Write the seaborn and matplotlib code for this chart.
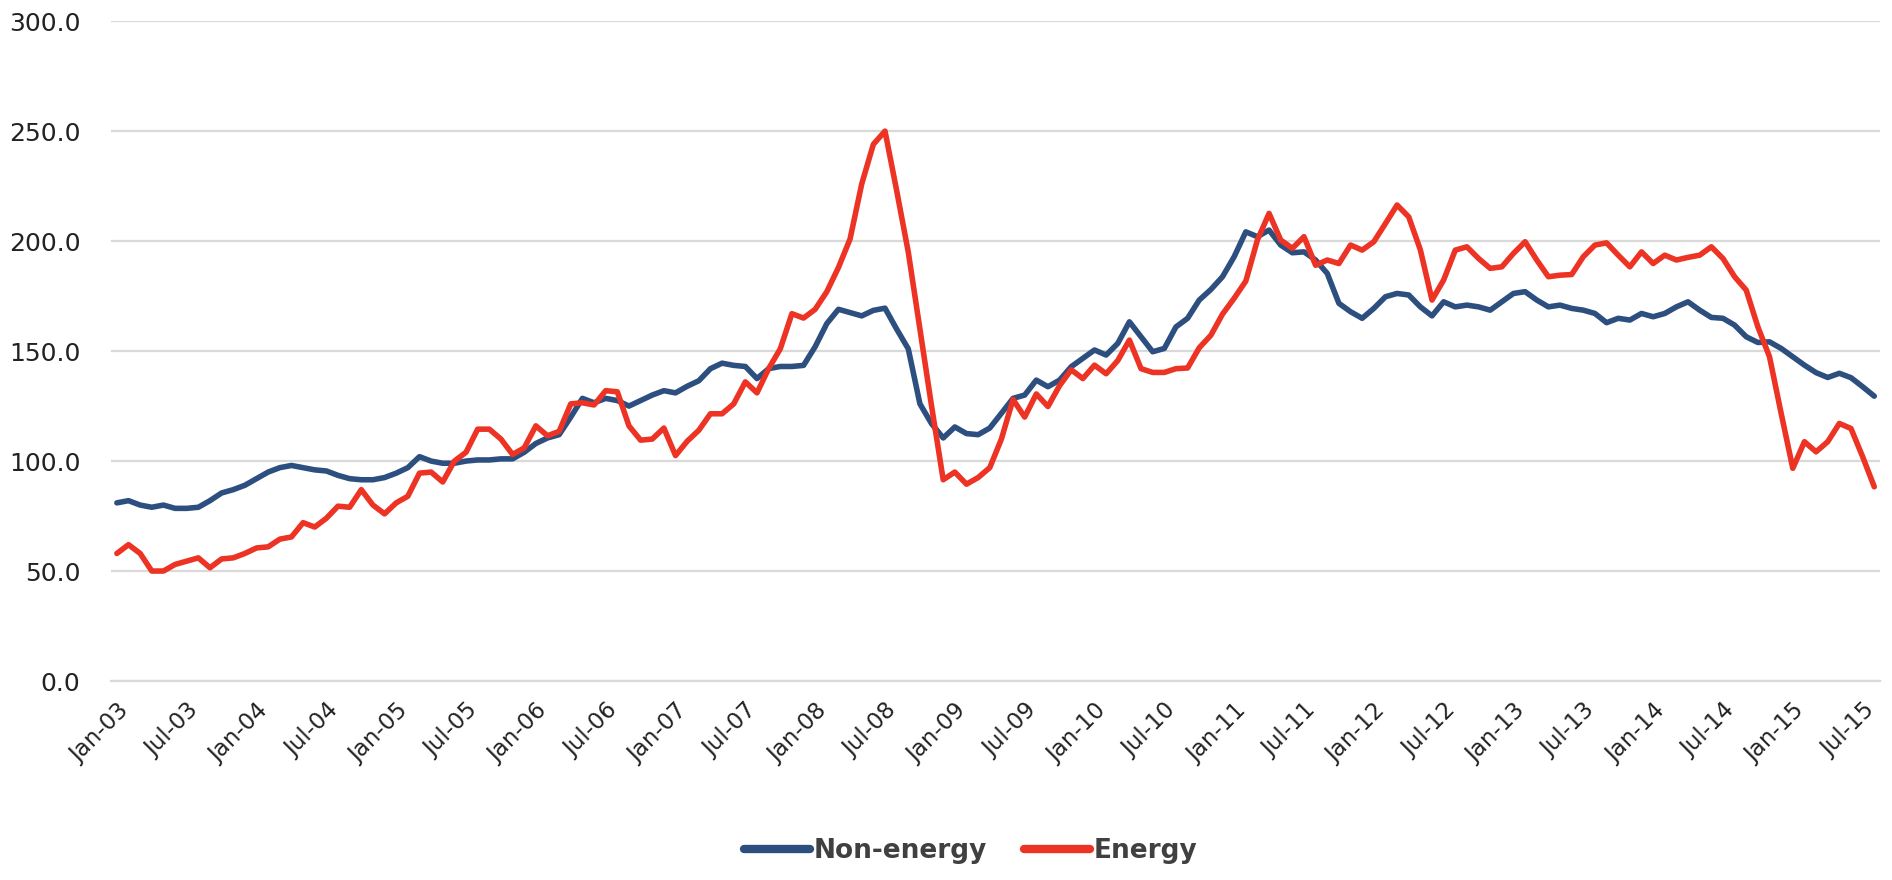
import numpy as np
import pandas as pd
import matplotlib
matplotlib.use("Agg")
import matplotlib.pyplot as plt
from matplotlib.ticker import FixedLocator, FuncFormatter
import seaborn as sns

# monthly index values, Jan-03 .. Aug-15
months = pd.date_range("2003-01-01", periods=152, freq="MS")

non_energy = [
    81, 82, 80, 79, 80, 78.5, 78.5, 79, 82, 85.5, 87, 89,
    92, 95, 97, 98, 97, 96, 95.5, 93.5, 92, 91.5, 91.5, 92.5,
    94.5, 97, 102, 100, 99, 99, 100, 100.5, 100.5, 101, 101, 104,
    108, 110.5, 112, 120, 128.5, 126.5, 128.5, 127.5, 125, 127.5, 130, 132,
    131, 134, 136.5, 142, 144.5, 143.5, 143, 137.5, 142, 143, 143, 143.5,
    152, 162.5, 169, 167.5, 166, 168.5, 169.5, 160, 151, 126, 117, 110.5,
    115.5, 112.5, 112, 115, 121.7, 128.5, 130, 136.8, 133.8, 136.8, 142.9, 146.7,
    150.5, 148.2, 153.5, 163.3, 156.5, 149.7, 151.2, 161, 164.9, 173.2, 178, 183.8,
    192.9, 204.2, 202, 205, 198.2, 194.7, 195.1, 191.4, 185.3, 171.7, 167.9, 164.9,
    169.4, 174.7, 176.2, 175.5, 170.1, 166, 172.4, 170.1, 170.9, 170.1, 168.6, 172.4,
    176.2, 177, 173.2, 170.1, 170.9, 169.4, 168.6, 167.1, 162.9, 164.9, 164.1, 167.1,
    165.6, 167.1, 170.1, 172.4, 168.6, 165.3, 164.9, 161.8, 156.5, 153.9, 154.2, 151.2,
    147.4, 143.6, 140.2, 138, 139.9, 137.9, 133.8, 129.5,
]

energy = [
    58, 62, 58, 50, 50, 53, 54.5, 56, 51.5, 55.5, 56, 58,
    60.5, 61, 64.5, 65.5, 72, 70, 74, 79.5, 79, 87, 80, 76,
    81, 84, 94.5, 95, 90.5, 100, 104, 114.5, 114.5, 110, 103, 106,
    116, 111.5, 113.5, 126, 126.5, 125.5, 132, 131.5, 116, 109.5, 110, 115,
    102.5, 109, 114, 121.5, 121.5, 126, 136, 131, 142, 151, 167, 165,
    169, 177, 188, 201, 226, 244, 250, 223, 195, 160, 125, 91.5,
    95, 89.5, 92.5, 97, 110, 128, 120, 130.5, 124.8, 134.3, 141.5, 137.5,
    143.6, 139.7, 145.7, 155, 142, 140.3, 140.3, 142, 142.3, 151.5, 157.2, 166.8,
    174, 181.8, 200.5, 212.6, 200.5, 196.7, 202, 189, 191.4, 189.8, 198.2, 195.9,
    199.7, 208, 216.4, 211, 196, 173.2, 182.3, 195.9, 197.4, 192.1, 187.6, 188.3,
    194.4, 199.7, 191.4, 183.8, 184.5, 184.8, 192.9, 198.2, 199.2, 193.6, 188.3, 195.1,
    189.8, 193.6, 191.4, 192.6, 193.6, 197.4, 192.1, 183.8, 177.7, 161, 147.4, 121.7,
    96.7, 108.8, 104.2, 108.8, 117.1, 114.8, 102, 88.3,
]

series_names = ["Non-energy", "Energy"]
colors = {"Non-energy": "#2D4F7F", "Energy": "#EC3324"}

df = pd.DataFrame({
    "idx": np.tile(np.arange(len(months)), 2),
    "value": non_energy + energy,
    "series": np.repeat(series_names, len(months)),
})

tick_labels = [m.strftime("%b-%y") for m in months]

sns.set_style("white")
plt.rcParams["font.family"] = ["DejaVu Sans"]

fig = plt.figure(figsize=(18.92, 8.8), dpi=100)
ax = fig.add_axes([0.0587, 0.2261, 0.935, 0.7499])

sns.lineplot(data=df, x="idx", y="value", hue="series", hue_order=series_names,
             palette=colors, linewidth=4, ax=ax, legend=True,
             solid_capstyle="round", solid_joinstyle="round")

ax.set_xlim(-0.5, len(months) - 0.5)
ax.set_ylim(0, 300)
ax.set_yticks(np.arange(0, 301, 50))
ax.yaxis.set_major_formatter(FuncFormatter(lambda v, p: f"{v:.1f}"))
ax.grid(axis="y", color="#D9D9D9", linewidth=1.6)
ax.grid(axis="x", visible=False)
ax.set_axisbelow(True)

# labels every 6 months at category centres, tick marks every 3 months at boundaries
label_pos = np.arange(0, len(months), 6)
ax.set_xticks(label_pos)
ax.set_xticklabels([tick_labels[i] for i in label_pos], rotation=45,
                   ha="right", rotation_mode="anchor", fontsize=16.5, color="#222222")
ax.xaxis.set_minor_locator(FixedLocator(np.arange(-0.5, len(months), 3)))
ax.tick_params(axis="x", which="major", length=0, pad=13)
ax.tick_params(axis="x", which="minor", length=6, width=1.3, color="#D9D9D9")
ax.tick_params(axis="y", length=0, pad=22, labelsize=18, labelcolor="#222222")

for side in ["left", "right", "top"]:
    ax.spines[side].set_visible(False)
ax.spines["bottom"].set_color("#D9D9D9")
ax.spines["bottom"].set_linewidth(1.6)
ax.set_xlabel("")
ax.set_ylabel("")

handles, labels = ax.get_legend_handles_labels()
ax.get_legend().remove()
leg = fig.legend(handles, labels, loc="center", bbox_to_anchor=(0.513, 0.033),
                 ncol=2, frameon=False, handlelength=2.5, handletextpad=0.15,
                 columnspacing=1.4, prop={"weight": "bold", "size": 19})
for t in leg.get_texts():
    t.set_color("#404040")
for h in leg.get_lines():
    h.set_linewidth(6)
    h.set_solid_capstyle("round")

fig.savefig("out.png", dpi=100)
